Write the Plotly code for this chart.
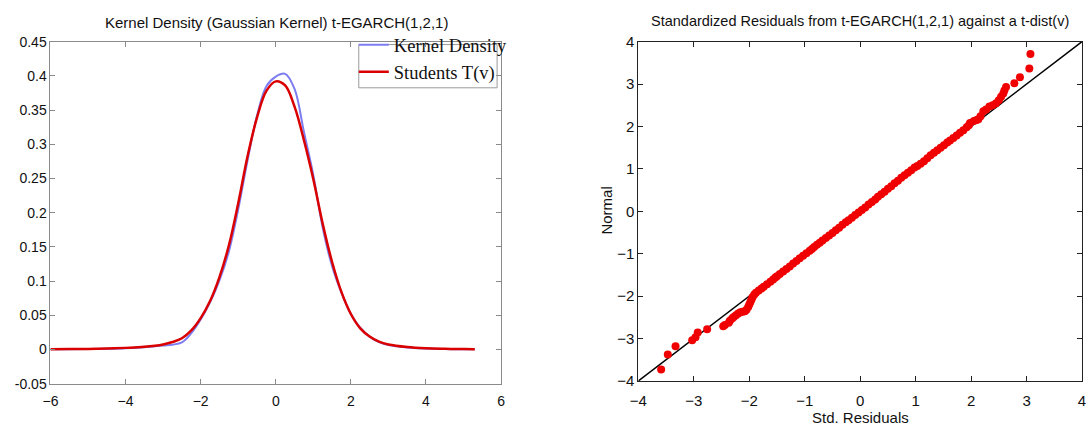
import plotly.graph_objects as go

# ---------------- Left panel data ----------------
kd_x = [-6, -5.5, -5, -4.5, -4, -3.5, -3, -2.75, -2.5, -2.25, -2, -1.75, -1.5, -1.25,
        -1, -0.75, -0.5, -0.25, 0, 0.25, 0.5, 0.75, 1, 1.25, 1.5, 1.75, 2, 2.25,
        2.5, 2.75, 3, 3.5, 4, 4.5, 5, 5.3]
kernel_density = [0.0003, 0.0005, 0.0008, 0.0012, 0.002, 0.0035, 0.006, 0.0072, 0.0105,
                  0.024, 0.044, 0.069, 0.101, 0.143, 0.205, 0.277, 0.342, 0.385, 0.399,
                  0.403, 0.381, 0.318, 0.255, 0.178, 0.122, 0.083, 0.052, 0.032, 0.019,
                  0.011, 0.0065, 0.003, 0.0015, 0.0008, 0.0004, 0.0003]
students_t = [0.0005, 0.0007, 0.001, 0.0015, 0.0025, 0.004, 0.0075, 0.011, 0.0165,
              0.028, 0.046, 0.071, 0.106, 0.152, 0.214, 0.283, 0.339, 0.378, 0.392,
              0.386, 0.355, 0.306, 0.249, 0.184, 0.128, 0.084, 0.052, 0.031, 0.019,
              0.0115, 0.0075, 0.0038, 0.002, 0.0012, 0.0007, 0.0005]

left_xticks = [-6, -4, -2, 0, 2, 4, 6]
left_yticks = [-0.05, 0, 0.05, 0.1, 0.15, 0.2, 0.25, 0.3, 0.35, 0.4, 0.45]
left_ylabels = ["-0.05", "0", "0.05", "0.1", "0.15", "0.2", "0.25", "0.3", "0.35", "0.4", "0.45"]

# ---------------- Right panel data (QQ plot) ----------------
std_residuals = [
    -3.59, -3.47, -3.33, -3.03, -2.97, -2.93, -2.76,
    -2.47, -2.44, -2.37, -2.35, -2.31, -2.28, -2.24, -2.20, -2.16, -2.12, -2.08,
    -2.05, -2.02, -2.00, -1.98, -1.96, -1.94, -1.91,
    -1.88, -1.83, -1.78, -1.74, -1.68, -1.62, -1.57, -1.53, -1.50, -1.45, -1.39,
    -1.33, -1.27, -1.21, -1.15, -1.09, -1.03, -0.97, -0.91, -0.87, -0.83, -0.78,
    -0.73, -0.68, -0.62, -0.56, -0.50, -0.44, -0.38, -0.32, -0.26, -0.21, -0.15,
    -0.09, -0.03, 0.03, 0.09, 0.15, 0.21, 0.27, 0.32, 0.38, 0.44, 0.50, 0.56,
    0.62, 0.68, 0.74, 0.80, 0.86, 0.92, 0.98, 1.03, 1.09, 1.15, 1.21, 1.27, 1.33,
    1.39, 1.45, 1.51, 1.57, 1.62, 1.68, 1.74, 1.80, 1.86, 1.92, 1.96, 1.98,
    2.05, 2.10, 2.13, 2.17, 2.22, 2.27, 2.33, 2.39, 2.45, 2.50, 2.54, 2.58, 2.60, 2.63,
    2.78, 2.88, 3.05, 3.07]
normal_quantiles = [
    -3.73, -3.38, -3.18, -3.04, -2.97, -2.86, -2.78,
    -2.71, -2.68, -2.63, -2.58, -2.53, -2.49, -2.45, -2.41, -2.38, -2.37, -2.36,
    -2.32, -2.26, -2.20, -2.14, -2.08, -2.02, -1.96,
    -1.92, -1.87, -1.82, -1.78, -1.72, -1.66, -1.61, -1.56, -1.53, -1.48, -1.42,
    -1.36, -1.30, -1.23, -1.17, -1.11, -1.05, -0.99, -0.93, -0.89, -0.84, -0.79,
    -0.74, -0.69, -0.63, -0.57, -0.51, -0.45, -0.39, -0.32, -0.26, -0.21, -0.15,
    -0.09, -0.03, 0.03, 0.09, 0.16, 0.22, 0.28, 0.34, 0.40, 0.46, 0.53, 0.59,
    0.66, 0.72, 0.79, 0.85, 0.91, 0.97, 1.03, 1.07, 1.12, 1.18, 1.25, 1.32, 1.38,
    1.44, 1.50, 1.56, 1.62, 1.67, 1.73, 1.79, 1.85, 1.91, 1.98, 2.03, 2.08,
    2.13, 2.15, 2.17, 2.24, 2.36, 2.40, 2.47, 2.50, 2.55, 2.62, 2.70, 2.78, 2.85, 2.93,
    3.02, 3.16, 3.37, 3.71]
ref_x = [-4, 4]
ref_y = [-4, 4]
right_ticks = [-4, -3, -2, -1, 0, 1, 2, 3, 4]

W, H = 1088, 436
def px(x):
    return x / W
def py(y):
    return 1 - y / H

fig = go.Figure()
fig.add_trace(go.Scatter(x=kd_x, y=kernel_density, mode="lines", name="Kernel Density",
                         line=dict(color="rgb(125,125,240)", width=2, shape="spline"),
                         xaxis="x", yaxis="y"))
fig.add_trace(go.Scatter(x=kd_x, y=students_t, mode="lines", name="Students T(v)",
                         line=dict(color="rgb(218,0,0)", width=2.5, shape="spline"),
                         xaxis="x", yaxis="y"))
fig.add_trace(go.Scatter(x=ref_x, y=ref_y, mode="lines", showlegend=False,
                         line=dict(color="black", width=1.5), xaxis="x2", yaxis="y2"))
fig.add_trace(go.Scatter(x=std_residuals, y=normal_quantiles, mode="markers", showlegend=False,
                         marker=dict(color="rgb(240,0,0)", size=8, line=dict(width=0)),
                         xaxis="x2", yaxis="y2"))

grey = "#8a8a8a"
tickfont_l = dict(family="Liberation Sans, Arial", size=14, color="#111")
tickfont_r = dict(family="Liberation Sans, Arial", size=15, color="#111")

left_dom_x = [px(42), px(498)]
left_dom_y = [py(390), py(34)]
right_dom_x = [px(637), px(1086)]
right_dom_y = [py(387), py(34)]

fig.update_layout(
    width=W, height=H,
    margin=dict(l=0, r=0, t=0, b=0),
    paper_bgcolor="white", plot_bgcolor="white",
    showlegend=True,
    legend=dict(x=px(349), y=py(18), xanchor="left", yanchor="top",
                bgcolor="rgba(0,0,0,0)", borderwidth=0,
                font=dict(family="Liberation Serif, Times New Roman", size=18.5, color="#111"),
                tracegroupgap=0),
    xaxis=dict(domain=left_dom_x, anchor="y", range=[-6, 6], tickvals=left_xticks,
               showgrid=False, zeroline=False, showline=True, linecolor=grey, linewidth=1,
               mirror="ticks", ticks="inside", ticklen=5, tickcolor=grey, tickfont=tickfont_l,
               ticklabelstandoff=4),
    yaxis=dict(domain=left_dom_y, anchor="x", range=[-0.05, 0.45], tickvals=left_yticks,
               ticktext=left_ylabels,
               showgrid=False, zeroline=False, showline=True, linecolor=grey, linewidth=1,
               mirror="ticks", ticks="inside", ticklen=5, tickcolor=grey, tickfont=tickfont_l),
    xaxis2=dict(domain=right_dom_x, anchor="y2", range=[-4, 4], tickvals=right_ticks,
                showgrid=False, zeroline=False, showline=True, linecolor="#222", linewidth=1,
                mirror="ticks", ticks="inside", ticklen=5, tickcolor="#222", tickfont=tickfont_r,
                ticklabelstandoff=6),
    yaxis2=dict(domain=right_dom_y, anchor="x2", range=[-4, 4], tickvals=right_ticks,
                showgrid=False, zeroline=False, showline=True, linecolor="#222", linewidth=1,
                mirror="ticks", ticks="inside", ticklen=5, tickcolor="#222", tickfont=tickfont_r),
    shapes=[dict(type="rect", xref="paper", yref="paper",
                 x0=px(354), x1=px(494), y0=py(82), y1=py(37),
                 line=dict(color="#9a9a9a", width=1), fillcolor="rgba(0,0,0,0)")],
    annotations=[
        dict(text="Kernel Density (Gaussian Kernel) t-EGARCH(1,2,1)", x=px(271), y=py(14),
             xref="paper", yref="paper", showarrow=False, xanchor="center", yanchor="middle",
             font=dict(family="Liberation Sans, Arial", size=15, color="#111")),
        dict(text="Standardized Residuals from t-EGARCH(1,2,1) against a t-dist(v)",
             x=px(861), y=py(13), xref="paper", yref="paper", showarrow=False,
             xanchor="center", yanchor="middle",
             font=dict(family="Liberation Sans, Arial", size=14.5, color="#111")),
        dict(text="Std. Residuals", x=px(862), y=py(425), xref="paper", yref="paper",
             showarrow=False, xanchor="center", yanchor="middle",
             font=dict(family="Liberation Sans, Arial", size=15, color="#111")),
        dict(text="Normal", x=px(605), y=py(210), xref="paper", yref="paper",
             showarrow=False, xanchor="center", yanchor="middle", textangle=-90,
             font=dict(family="Liberation Sans, Arial", size=15, color="#111")),
    ],
)

fig.write_html("out.html")
